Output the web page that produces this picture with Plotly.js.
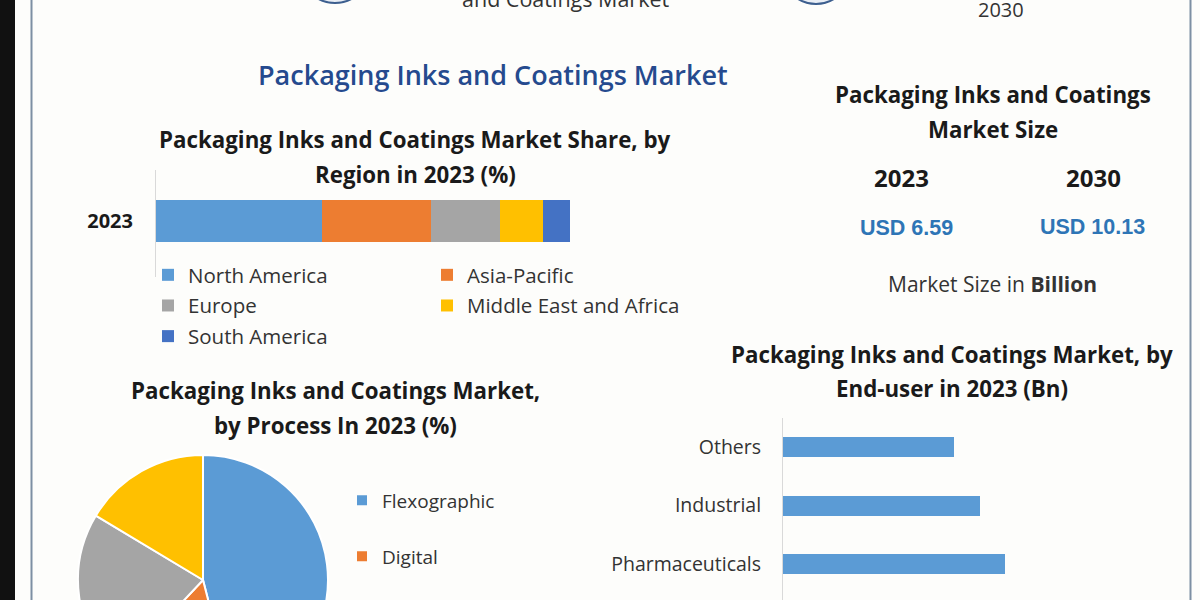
<!DOCTYPE html>
<html>
<head>
<meta charset="utf-8">
<script src="https://cdn.plot.ly/plotly-3.0.1.min.js"></script>
<style>
  html, body { margin:0; padding:0; width:1200px; height:600px; overflow:hidden; background:#fdfdfb; }
  #wrap { width:1200px; height:600px; overflow:hidden; position:relative; }
  #chart { width:1200px; height:720px; }
</style>
</head>
<body>
<div id="wrap"><div id="chart"></div></div>
<script>
// ---------- data ----------
const regionYear = ['2023'];
const regions = ['North America', 'Asia-Pacific', 'Europe', 'Middle East and Africa', 'South America'];
const regionShare = [40, 26.5, 16.5, 10.5, 6.5];
const regionColors = ['#5B9BD5', '#ED7D31', '#A5A5A5', '#FFC000', '#4472C4'];

const processes = ['Flexographic', 'Digital', 'Gravure', 'Lithography'];
const processShare = [46, 16, 21.6, 16.4];
const processColors = ['#5B9BD5', '#ED7D31', '#A5A5A5', '#FFC000'];
const processLegendShown = 2; // the reference only shows the first two legend entries

const endUsers = ['Others', 'Industrial', 'Pharmaceuticals'];
const endUserValues = [1.14, 1.31, 1.48];

const sizeYears = ['2023', '2030'];
const sizeValues = [6.59, 10.13];

// ---------- layout helpers ----------
const W = 1200, H = 720;
const fx = p => p / W;
const fy = p => 1 - p / H;

const traces = [];
// stacked region bar
regions.forEach((r, i) => {
  traces.push({
    type: 'bar', orientation: 'h',
    y: regionYear, x: [regionShare[i]],
    name: r, width: 0.39,
    marker: { color: regionColors[i], line: { width: 0 } },
    xaxis: 'x', yaxis: 'y',
    legend: (i % 2 === 0) ? 'legend' : 'legend2',
    legendgroup: 'r' + i,
    hoverinfo: 'x+name'
  });
});

// pie by process
traces.push({
  type: 'pie', labels: processes, values: processShare,
  marker: { colors: processColors, line: { color: '#ffffff', width: 2 } },
  direction: 'clockwise', sort: false, rotation: 0,
  textinfo: 'none', showlegend: false,
  domain: { x: [fx(78), fx(328)], y: [fy(705), fy(455)] }
});
// legend entries for the pie
processes.forEach((p, i) => {
  traces.push({
    type: 'scatter', mode: 'markers', x: [null], y: [null],
    name: p, marker: { symbol: 'square', size: 10, color: processColors[i] },
    xaxis: 'x', yaxis: 'y', legend: 'legend3', legendgroup: 'p' + i,
    showlegend: i < processLegendShown
  });
});

// end-user bars
traces.push({
  type: 'bar', orientation: 'h',
  y: endUsers, x: endUserValues, width: 0.34,
  marker: { color: '#5B9BD5' },
  xaxis: 'x2', yaxis: 'y2', showlegend: false
});

const titleFont = { family: '"Open Sans", sans-serif', size: 22.3, color: '#1a1a1a', weight: 700 };
function ann(text, x, y, font, extra) {
  return Object.assign({ text, x: fx(x), y: fy(y), xref: 'paper', yref: 'paper',
    xanchor: 'center', yanchor: 'middle', showarrow: false, font }, extra || {});
}
const annotations = [
  ann('and Coatings Market', 566, -2, { family: '"Open Sans", sans-serif', size: 21.5, color: '#333' }),
  ann('2030', 1001, 10, { family: '"Open Sans", sans-serif', size: 20, color: '#333' }),
  ann('Packaging Inks and Coatings Market', 493, 75, { family: '"Open Sans", sans-serif', size: 27, color: '#254A8E', weight: 600 }),
  ann('Packaging Inks and Coatings Market Share, by', 415, 140, titleFont),
  ann('Region in 2023 (%)', 415, 174, titleFont),
  ann('Packaging Inks and Coatings Market,', 335, 391, titleFont),
  ann('by Process In 2023 (%)', 335, 425, titleFont),
  ann('Packaging Inks and Coatings Market, by', 952, 354, titleFont),
  ann('End-user in 2023 (Bn)', 952, 388, titleFont),
  ann('Packaging Inks and Coatings', 993, 95, titleFont),
  ann('Market Size', 993, 129, titleFont),
  ann(sizeYears[0], 901, 177, Object.assign({}, titleFont, { size: 24 })),
  ann(sizeYears[1], 1093, 177, Object.assign({}, titleFont, { size: 24 })),
  ann('USD ' + sizeValues[0].toFixed(2), 906, 228, { family: '"Liberation Sans", Arial, sans-serif', size: 21.5, color: '#2E75B6', weight: 700 }),
  ann('USD ' + sizeValues[1].toFixed(2), 1092, 227, { family: '"Liberation Sans", Arial, sans-serif', size: 21.5, color: '#2E75B6', weight: 700 }),
  ann('Market Size in <b>Billion</b>', 992, 284, { family: '"Open Sans", sans-serif', size: 21, color: '#333' })
];

const shapes = [
  { type: 'rect', xref: 'paper', yref: 'paper', x0: 0, x1: fx(15), y0: fy(600), y1: 1, fillcolor: '#111111', line: { width: 0 }, layer: 'above' },
  { type: 'line', xref: 'paper', yref: 'paper', x0: fx(31.5), x1: fx(31.5), y0: fy(600), y1: 1, line: { color: '#7d8fa3', width: 2 } },
  { type: 'line', xref: 'paper', yref: 'paper', x0: fx(1190.5), x1: fx(1190.5), y0: fy(600), y1: 1, line: { color: '#7d8fa3', width: 2 } },
  { type: 'circle', xref: 'paper', yref: 'paper', x0: fx(300), x1: fx(370), y0: fy(3), y1: fy(-67), fillcolor: '#e9eef5', line: { color: '#3d5f8f', width: 2 } },
  { type: 'circle', xref: 'paper', yref: 'paper', x0: fx(782), x1: fx(850), y0: fy(4), y1: fy(-64), fillcolor: '#e9eef5', line: { color: '#3d5f8f', width: 2 } }
];

const legendFont = { family: '"Open Sans", sans-serif', size: 20.5, color: '#333' };
const layout = {
  width: W, height: H,
  margin: { l: 0, r: 0, t: 0, b: 0 },
  paper_bgcolor: '#fdfdfb', plot_bgcolor: 'rgba(0,0,0,0)',
  barmode: 'stack',
  showlegend: true,
  xaxis: { domain: [fx(156), fx(570)], range: [0, 100], visible: false, fixedrange: true },
  yaxis: { domain: [fy(277), fy(170)], type: 'category', range: [-0.52, 0.48],
    showline: true, linecolor: '#d9d9d9', linewidth: 1, ticks: '', showgrid: false, zeroline: false,
    ticklabelstandoff: 18,
    tickfont: { family: '"Open Sans", sans-serif', size: 20, color: '#1a1a1a', weight: 700 } },
  xaxis2: { domain: [fx(783), fx(1158)], range: [0, 2.5], visible: false, anchor: 'y2' },
  yaxis2: { domain: [fy(710), fy(418)], type: 'category', categoryarray: endUsers, categoryorder: 'array',
    range: [4.5, -0.5], anchor: 'x2',
    showline: true, linecolor: '#d9d9d9', linewidth: 1, ticks: '', showgrid: false, zeroline: false,
    ticklabelstandoff: 17,
    tickfont: { family: '"Open Sans", sans-serif', size: 19.5, color: '#333' } },
  legend: { x: fx(148), y: fy(255), xanchor: 'left', yanchor: 'top', orientation: 'v',
    traceorder: 'grouped', tracegroupgap: 1, font: legendFont, bgcolor: 'rgba(0,0,0,0)' },
  legend2: { x: fx(427), y: fy(255), xanchor: 'left', yanchor: 'top', orientation: 'v',
    traceorder: 'grouped', tracegroupgap: 1, font: legendFont, bgcolor: 'rgba(0,0,0,0)' },
  legend3: { x: fx(342), y: fy(481.5), xanchor: 'left', yanchor: 'top', orientation: 'v',
    traceorder: 'grouped', tracegroupgap: 28.3,
    font: { family: '"Open Sans", sans-serif', size: 19, color: '#333' }, bgcolor: 'rgba(0,0,0,0)' },
  annotations, shapes
};

Plotly.newPlot('chart', traces, layout, { displayModeBar: false, staticPlot: true });
</script>
</body>
</html>
